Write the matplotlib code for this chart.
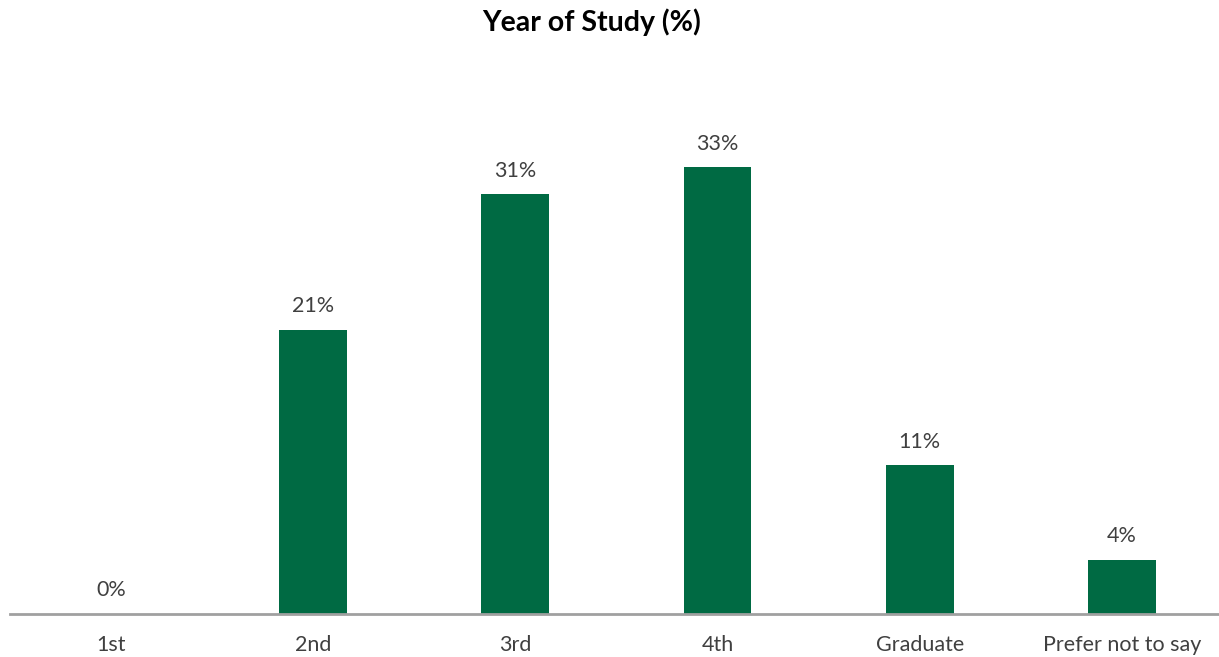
import matplotlib
matplotlib.use("Agg")
import matplotlib.pyplot as plt
import numpy as np

# Datos
categorias = ["1st", "2nd", "3rd", "4th", "Graduate", "Prefer not to say"]
porcentajes = [0, 21, 31, 33, 11, 4]

plt.rcParams['font.family'] = ['Lato', 'DejaVu Sans']

verde = '#006A43'
gris_texto = '#404040'

fig = plt.figure(figsize=(12.19, 6.57), dpi=100)
ax = fig.add_axes([0.008, 43 / 657, 0.992, (613 - 100) / 657])

x = np.arange(len(categorias))
barras = ax.bar(x, porcentajes, width=0.336, color=verde, zorder=2)

# Etiquetas de valor sobre cada barra
for xi, v in zip(x, porcentajes):
    ax.text(xi, v + 1.0, f"{v}%", ha='center', va='bottom',
            fontsize=15.5, color=gris_texto)

ax.set_xlim(-0.5, 5.48)
ax.set_ylim(0, 37.9)

ax.set_xticks(x)
ax.set_xticklabels(categorias, fontsize=15.5, color=gris_texto)
ax.tick_params(axis='x', length=0, pad=15)
ax.set_yticks([])

for lado in ['top', 'right', 'left']:
    ax.spines[lado].set_visible(False)
ax.spines['bottom'].set_color('#A0A0A0')
ax.spines['bottom'].set_linewidth(2)

fig.text(592 / 1219, 1 - 22 / 657, "Year of Study (%)", ha='center', va='center',
         fontsize=20.5, fontweight='bold', color='black')

fig.savefig("out.png", dpi=100)
